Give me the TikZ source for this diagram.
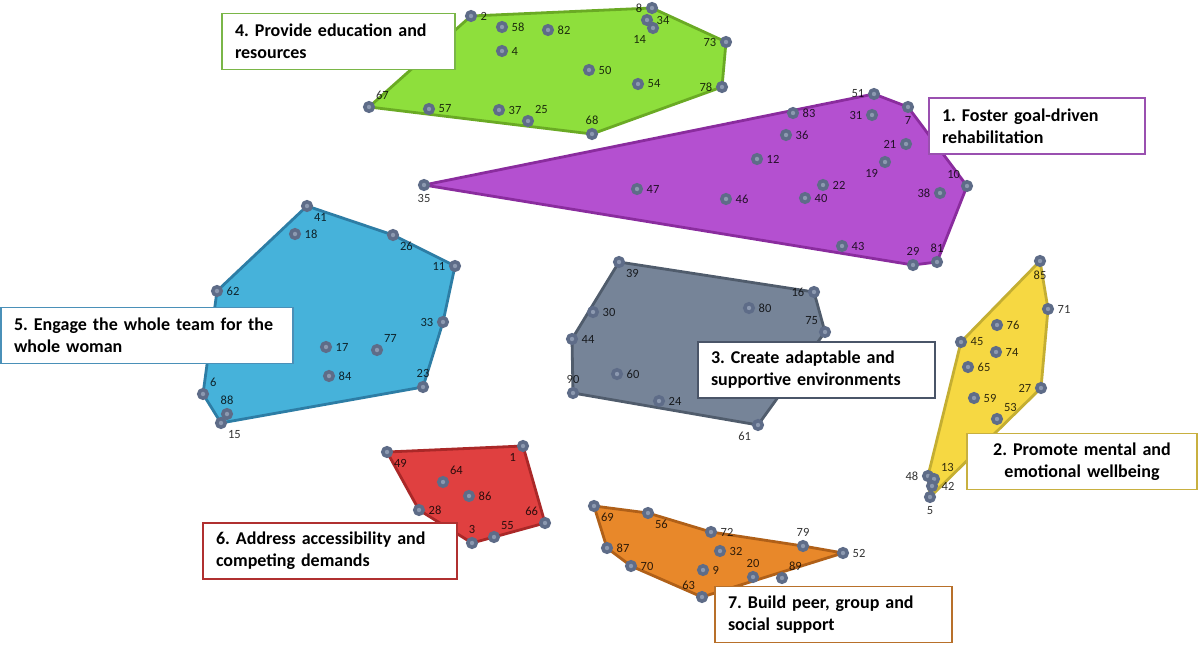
\documentclass[tikz,border=0pt]{standalone}
\usepackage{fontspec}
\setmainfont{Carlito}
\usetikzlibrary{positioning}
\pgfdeclarelayer{bg}\pgfsetlayers{bg,main}
\definecolor{ptout}{HTML}{5E6C88}\definecolor{ptin}{HTML}{8C99B0}
\definecolor{gfill}{HTML}{8EDF3C}\definecolor{gedge}{HTML}{6AAA24}\definecolor{gbox}{HTML}{7AB648}
\definecolor{mfill}{HTML}{B450D0}\definecolor{medge}{HTML}{8A2C9E}\definecolor{mbox}{HTML}{9A50B0}
\definecolor{cfill}{HTML}{46B2DA}\definecolor{cedge}{HTML}{2D7DA5}\definecolor{cbox}{HTML}{4A90B8}
\definecolor{sfill}{HTML}{768498}\definecolor{sedge}{HTML}{505C6C}\definecolor{sbox}{HTML}{4A5568}
\definecolor{yfill}{HTML}{F6D842}\definecolor{yedge}{HTML}{C4AE32}\definecolor{ybox}{HTML}{C8B040}
\definecolor{rfill}{HTML}{E04040}\definecolor{redge}{HTML}{AA2828}\definecolor{rbox}{HTML}{B03030}
\definecolor{ofill}{HTML}{E8882A}\definecolor{oedge}{HTML}{B06018}\definecolor{obox}{HTML}{B8702A}
\frenchspacing
\begin{document}
\begin{tikzpicture}[x=1pt,y=-1pt,node distance=3pt,
  pt/.style={circle,fill=ptin,draw=ptout,line width=3.5pt,minimum size=8.5pt,inner sep=0pt},
  num/.style={inner sep=0.5pt,text=black,text opacity=0.8,font=\fontsize{12.5}{13}\selectfont},
  hull/.style={line width=2.8pt,line join=round},
  box/.style={draw,line width=1.6pt,fill=white,align=left,inner xsep=13pt,minimum height=56pt,font=\fontsize{18}{22}\selectfont\bfseries}]
\useasboundingbox (0,0) rectangle (1200,647);
% 4. education and resources
\foreach \n/\x/\y/\a in {67/369/107/above right,2/471/16/right,8/652/8/left,34/647/20/right,14/653/28/below left,58/502/27/right,82/548/30/right,4/502/51/right,73/726/42/left,78/722/87/left,50/589/70/right,54/638/84/right,68/592/134/above,25/528/121/above right,37/499/110/right,57/429/109/right}
  {\node[pt] (p\n) at (\x,\y) {}; \node[num,\a=of p\n] {\n};}
% 1. goal-driven rehabilitation
\foreach \n/\x/\y/\a in {35/424/185/below,47/637/189/right,46/726/199/right,12/757/159/right,36/786/135/right,83/793/113/right,51/874/94/left,31/872/115/left,7/908/107/below,21/906/144/left,19/885/162/below left,22/823/185/right,40/805/198/right,38/940/193/left,10/967/186/above left,43/842/246/right,29/913/265/above,81/937/262/above}
  {\node[pt] (p\n) at (\x,\y) {}; \node[num,\a=of p\n] {\n};}
% 5. whole team
\foreach \n/\x/\y/\a in {41/307/206/below right,18/295/234/right,26/393/235/below right,11/455/266/left,62/217/291/right,33/443/322/left,17/326/347/right,77/377/350/above right,84/329/376/right,23/423/387/above,6/203/394/above right,88/227/414/above,15/221/423/below right}
  {\node[pt] (p\n) at (\x,\y) {}; \node[num,\a=of p\n] {\n};}
% 3. adaptable environments
\foreach \n/\x/\y/\a in {39/619/262/below right,16/814/292/left,80/749/308/right,30/593/312/right,75/825/332/above left,44/572/339/right,60/617/374/right,90/573/393/above,24/659/401/right,61/758/425/below left}
  {\node[pt] (p\n) at (\x,\y) {}; \node[num,\a=of p\n] {\n};}
% 2. mental wellbeing
\foreach \n/\x/\y/\a in {85/1040/261/below,71/1048/309/right,76/997/325/right,45/961/342/right,74/996/352/right,65/968/367/right,27/1041/388/left,59/974/398/right,53/997/419/above right,48/928/476/left,13/934/479/above right,42/932/486/right,5/930/497/below}
  {\node[pt] (p\n) at (\x,\y) {}; \node[num,\a=of p\n] {\n};}
% 6. accessibility
\foreach \n/\x/\y/\a in {49/387/452/below right,1/523/446/below left,64/443/482/above right,86/469/496/right,28/419/510/right,66/545/523/above left,3/472/543/above,55/494/537/above right}
  {\node[pt] (p\n) at (\x,\y) {}; \node[num,\a=of p\n] {\n};}
% 7. peer support
\foreach \n/\x/\y/\a in {69/594/506/below right,56/648/513/below right,72/711/532/right,79/803/546/above,52/843/553/right,87/607/548/right,70/631/566/right,32/720/551/right,9/703/570/right,20/753/577/above,89/782/578/above right,63/702/597/above left}
  {\node[pt] (p\n) at (\x,\y) {}; \node[num,\a=of p\n] {\n};}
\begin{pgfonlayer}{bg}
\draw[hull,draw=gedge,fill=gfill] (p67.center)--(p2.center)--(p8.center)--(p73.center)--(p78.center)--(p68.center)--cycle;
\draw[hull,draw=medge,fill=mfill] (p35.center)--(p51.center)--(p7.center)--(p10.center)--(p81.center)--(p29.center)--cycle;
\draw[hull,draw=cedge,fill=cfill] (p41.center)--(p26.center)--(p11.center)--(p33.center)--(p23.center)--(p15.center)--(p6.center)--(p62.center)--cycle;
\draw[hull,draw=sedge,fill=sfill] (p39.center)--(p16.center)--(p75.center)--(p61.center)--(p90.center)--(p44.center)--cycle;
\draw[hull,draw=yedge,fill=yfill] (p85.center)--(p71.center)--(p27.center)--(p5.center)--(p48.center)--(p45.center)--cycle;
\draw[hull,draw=redge,fill=rfill] (p49.center)--(p1.center)--(p66.center)--(p55.center)--(p3.center)--(p28.center)--cycle;
\draw[hull,draw=oedge,fill=ofill] (p69.center)--(p56.center)--(p72.center)--(p79.center)--(p52.center)--(p63.center)--(p70.center)--(p87.center)--cycle;
\end{pgfonlayer}
% theme boxes
\node[box,draw=gbox,text width=207pt] (b4) at (338.5,41.5) {4. Provide education and\\resources};
\node[box,draw=mbox,text width=190pt] (b1) at (1037,126) {1. Foster goal-driven\\rehabilitation};
\node[box,draw=cbox,text width=266pt] (b5) at (147,335.5) {5. Engage the whole team for the\\whole woman};
\node[box,draw=sbox,text width=211pt] (b3) at (816.5,370) {3. Create adaptable and\\supportive environments};
\node[box,draw=ybox,text width=204pt,align=center] (b2) at (1082,461.5) {2. Promote mental and\\emotional wellbeing};
\node[box,draw=rbox,text width=228pt] (b6) at (330,551) {6. Address accessibility and\\competing demands};
\node[box,draw=obox,text width=211pt] (b7) at (833.5,614.5) {7. Build peer, group and\\social support};
\end{tikzpicture}
\end{document}
